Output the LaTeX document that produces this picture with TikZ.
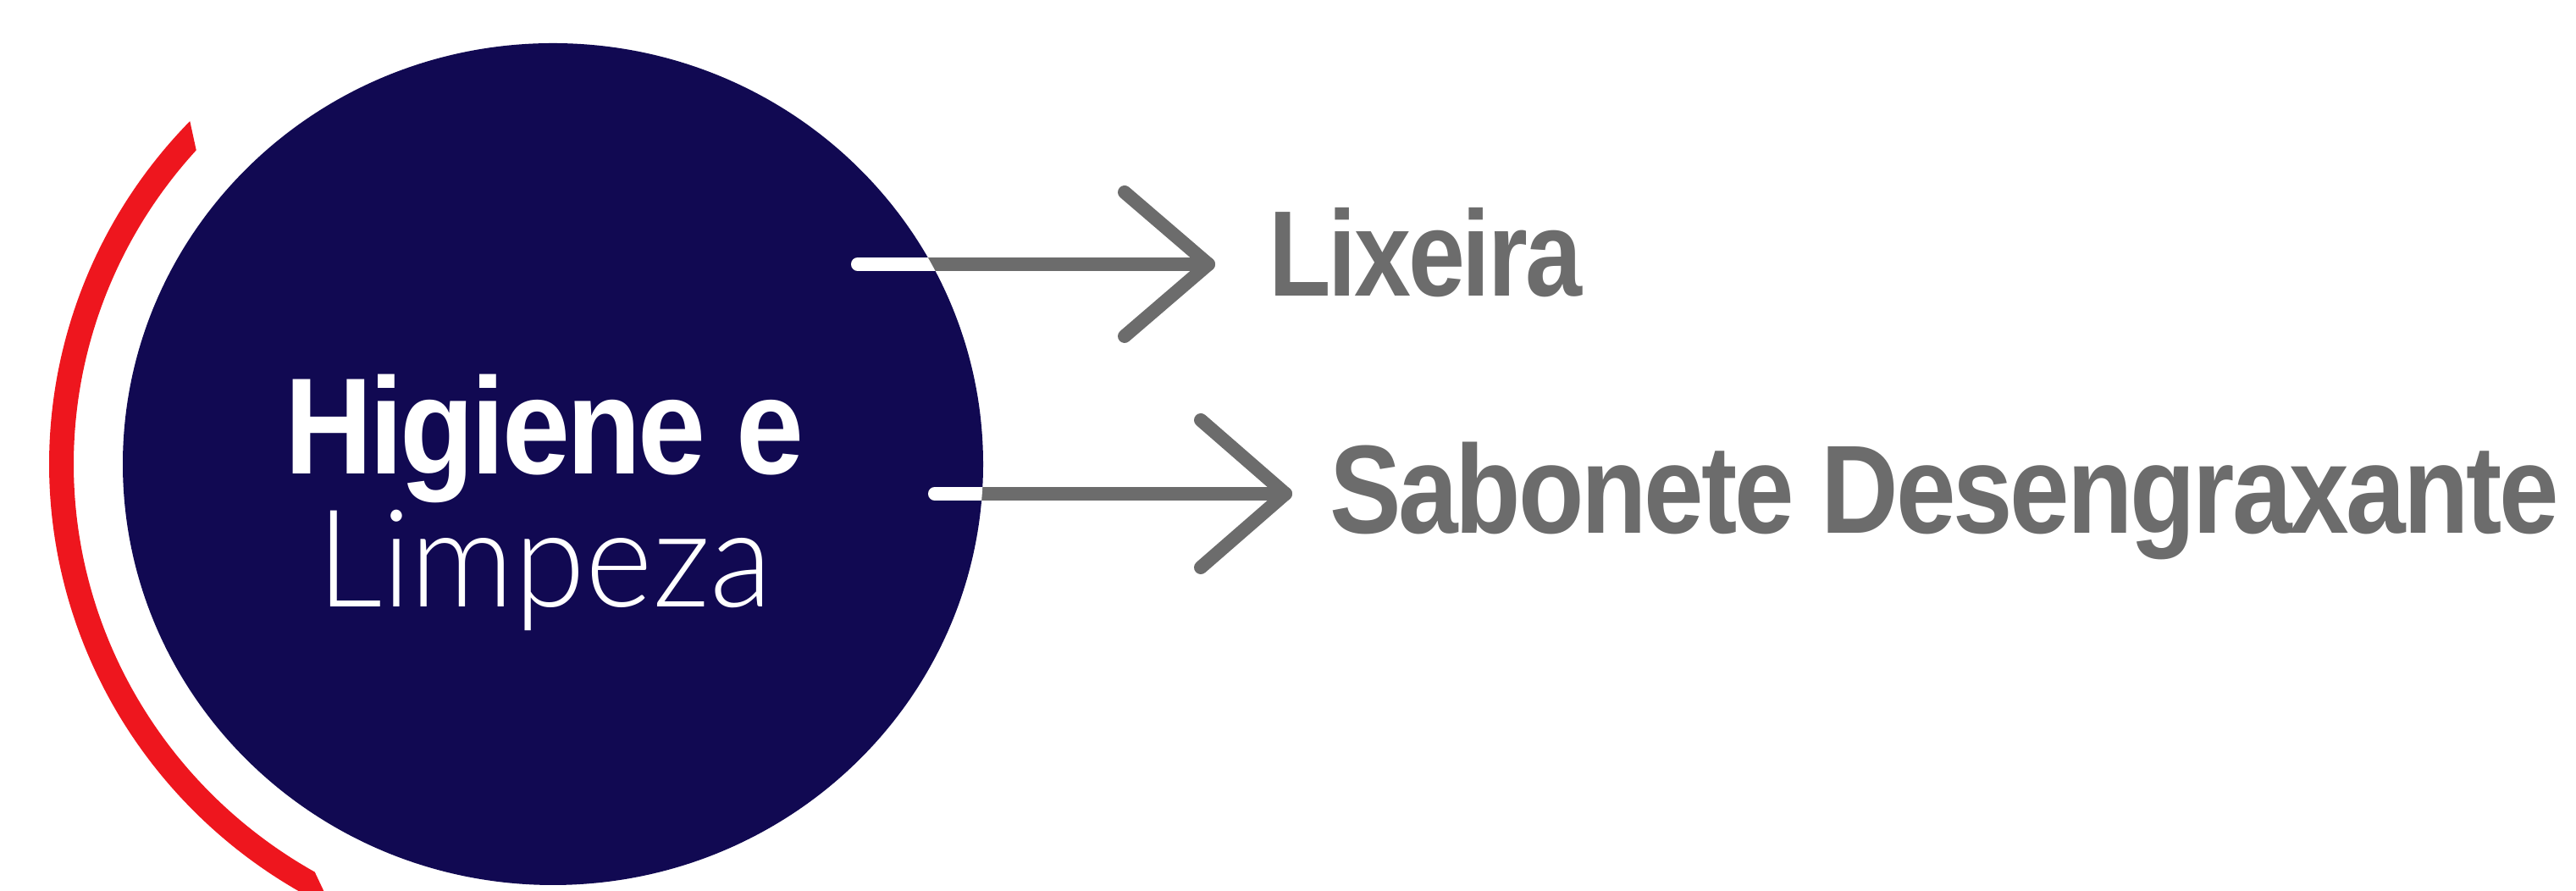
\documentclass[tikz,border=0pt]{standalone}
\usepackage{fontspec}
\setmainfont{Liberation Sans}[LetterSpace=-2.5]
\newfontfamily\lightfont{Lato Light}
\usetikzlibrary{shapes.geometric,calc}
\definecolor{navy}{RGB}{17,9,82}
\definecolor{hotred}{RGB}{238,22,30}
\definecolor{txtgray}{RGB}{108,108,108}
\begin{document}
\begin{tikzpicture}[
  conn/.style={draw=txtgray, line width=1.6mm, line cap=round, line join=round},
  innerpart/.style={draw=white, line width=1.6mm, line cap=round},
  itemlabel/.style={anchor=base west, inner sep=0pt, outer sep=0pt, text=txtgray},
  hubtext/.style={anchor=base west, inner sep=0pt, outer sep=0pt, text=white}
]
\useasboundingbox (0,0) rectangle (30.42,10.52);
\clip (0,0) rectangle (30.42,10.52);
\coordinate (c) at (6.53,5.04);
% red arc
\fill[hotred] ($(c)+(136.1:5.95 and 5.84)$)
  arc[start angle=136.1,end angle=244,x radius=5.95,y radius=5.84]
  -- ($(c)+(240.2:5.66 and 5.55)$)
  arc[start angle=240.2,end angle=138.1,x radius=5.66,y radius=5.55] -- cycle;
% hub
\node[ellipse, fill=navy, minimum width=10.16cm, minimum height=9.94cm, inner sep=0pt] (hub) at (c) {};
\node[hubtext, font=\fontsize{46.1pt}{50pt}\selectfont\bfseries] (h1) at (3.36,4.92) {\resizebox{6.14cm}{\height}{Higiene e}};
\node[hubtext, font=\fontsize{45.6pt}{50pt}\selectfont\lightfont] (h2) at (3.74,3.35) {\resizebox{5.38cm}{\height}{Limpeza}};
% labels
\node[itemlabel, font=\fontsize{40.9pt}{45pt}\selectfont\bfseries] (lix) at (14.98,7.02) {\resizebox{3.70cm}{\height}{Lixeira}};
\node[itemlabel, font=\fontsize{42.2pt}{45pt}\selectfont\bfseries] (sab) at (15.70,4.22) {\resizebox{14.52cm}{\height}{Sabonete Desengraxante}};
% connectors
\coordinate (s1) at (10.13,7.40);
\coordinate (a1) at (14.27,7.40);
\coordinate (s2) at (11.04,4.69);
\coordinate (a2) at (15.18,4.69);
\draw[conn] (s1) -- (a1);
\draw[conn] ($(a1)+(-0.99,0.85)$) -- (a1) -- ($(a1)+(-0.99,-0.85)$);
\draw[conn] (s2) -- (a2);
\draw[conn] ($(a2)+(-1.0,0.87)$) -- (a2) -- ($(a2)+(-1.0,-0.87)$);
\begin{scope}
  \clip (c) ellipse [x radius=5.08, y radius=4.97];
  \draw[innerpart] (s1) -- (a1);
  \draw[innerpart] (s2) -- (a2);
\end{scope}
\end{tikzpicture}
\end{document}
